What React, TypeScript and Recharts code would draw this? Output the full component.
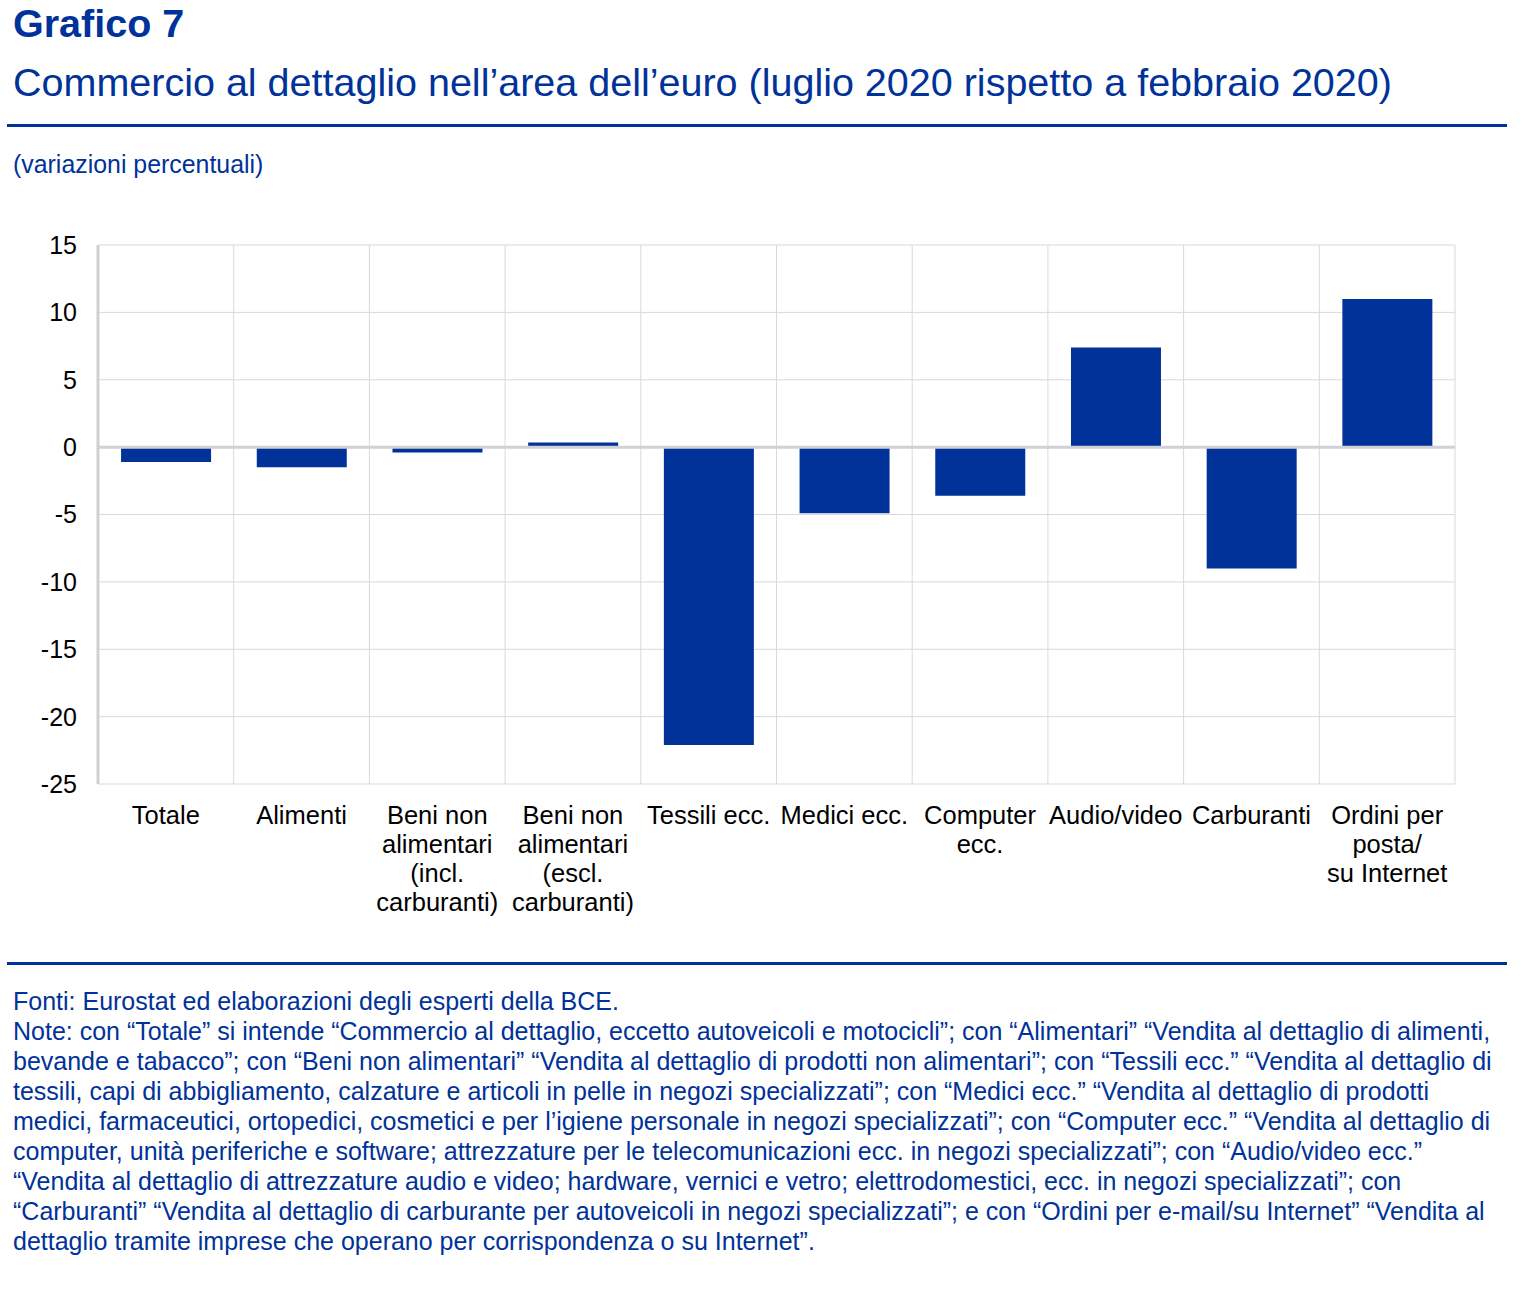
import React from "react";
import { BarChart, Bar, XAxis, YAxis, CartesianGrid, ReferenceLine } from "recharts";

const categories: string[] = [
  "Totale",
  "Alimenti",
  "Beni non\nalimentari\n(incl.\ncarburanti)",
  "Beni non\nalimentari\n(escl.\ncarburanti)",
  "Tessili ecc.",
  "Medici ecc.",
  "Computer\necc.",
  "Audio/video",
  "Carburanti",
  "Ordini per\nposta/\nsu Internet",
];

const values: number[] = [-1.1, -1.5, -0.4, 0.35, -22.1, -4.9, -3.6, 7.4, -9.0, 11.0];

const yTicks: number[] = [15, 10, 5, 0, -5, -10, -15, -20, -25];

const titleText = "Grafico 7";
const subtitleText = "Commercio al dettaglio nell’area dell’euro (luglio 2020 rispetto a febbraio 2020)";
const unitText = "(variazioni percentuali)";
const noteLines: string[] = [
  "Fonti: Eurostat ed elaborazioni degli esperti della BCE.",
  "Note: con “Totale” si intende “Commercio al dettaglio, eccetto autoveicoli e motocicli”; con “Alimentari” “Vendita al dettaglio di alimenti,",
  "bevande e tabacco”; con “Beni non alimentari” “Vendita al dettaglio di prodotti non alimentari”; con “Tessili ecc.” “Vendita al dettaglio di",
  "tessili, capi di abbigliamento, calzature e articoli in pelle in negozi specializzati”; con “Medici ecc.” “Vendita al dettaglio di prodotti",
  "medici, farmaceutici, ortopedici, cosmetici e per l’igiene personale in negozi specializzati”; con “Computer ecc.” “Vendita al dettaglio di",
  "computer, unità periferiche e software; attrezzature per le telecomunicazioni ecc. in negozi specializzati”; con “Audio/video ecc.”",
  "“Vendita al dettaglio di attrezzature audio e video; hardware, vernici e vetro; elettrodomestici, ecc. in negozi specializzati”; con",
  "“Carburanti” “Vendita al dettaglio di carburante per autoveicoli in negozi specializzati”; e con “Ordini per e-mail/su Internet” “Vendita al",
  "dettaglio tramite imprese che operano per corrispondenza o su Internet”.",
];

const data = categories.map((c, i) => ({ name: c, value: values[i] }));

const NAVY = "#003299";
const FONT = "'Liberation Sans', Arial, sans-serif";

const XTick = (props: any) => {
  const { x, y, payload } = props;
  const lines = String(payload.value).split("\n");
  return (
    <text x={x} y={y} textAnchor="middle" fontSize={25.5} fill="#000" fontFamily={FONT}>
      {lines.map((l, i) => (
        <tspan key={i} x={x} dy={i === 0 ? 32 : 29}>
          {l}
        </tspan>
      ))}
    </text>
  );
};

export default function App() {
  return (
    <div style={{ position: "absolute", left: 0, top: 0, width: 1529, height: 1315, background: "#fff", fontFamily: FONT }}>
      <div style={{ position: "absolute", left: 13, top: 4, fontSize: 39.5, lineHeight: "39.5px", fontWeight: "bold", color: NAVY, whiteSpace: "nowrap" }}>
        {titleText}
      </div>
      <div style={{ position: "absolute", left: 13, top: 63, fontSize: 39.5, lineHeight: "39.5px", color: NAVY, whiteSpace: "nowrap" }}>
        {subtitleText}
      </div>
      <div style={{ position: "absolute", left: 7, top: 124, width: 1500, height: 3, background: NAVY }} />
      <div style={{ position: "absolute", left: 13, top: 152, fontSize: 24.9, lineHeight: "24.9px", color: NAVY, whiteSpace: "nowrap" }}>
        {unitText}
      </div>
      <div style={{ position: "absolute", left: 0, top: 0 }}>
        <BarChart
          width={1529}
          height={930}
          data={data}
          margin={{ top: 245, right: 74, bottom: 0, left: 0 }}
          barCategoryGap="17%"
        >
          <CartesianGrid
            stroke="#d9d9d9"
            strokeWidth={1}
            verticalCoordinatesGenerator={(p: any) => {
              const off = p.offset;
              const n = categories.length;
              const arr: number[] = [];
              for (let i = 1; i <= n; i++) arr.push(off.left + (off.width * i) / n);
              return arr;
            }}
          />
          <XAxis
            dataKey="name"
            interval={0}
            height={146}
            axisLine={false}
            tickLine={false}
            tickSize={6}
            tickMargin={2}
            tick={<XTick />}
          />
          <YAxis
            width={98}
            domain={[-25, 15]}
            ticks={yTicks}
            type="number"
            axisLine={{ stroke: "#d0d0d0", strokeWidth: 3 }}
            tickLine={false}
            tickSize={6}
            tickMargin={15}
            tick={{ fontSize: 25, fill: "#000", fontFamily: FONT }}
            interval={0}
          />
          <Bar dataKey="value" fill={NAVY} isAnimationActive={false} />
          <ReferenceLine y={0} stroke="#d0d0d6" strokeWidth={3} />
        </BarChart>
      </div>
      <div style={{ position: "absolute", left: 7, top: 962, width: 1500, height: 3, background: NAVY }} />
      <div style={{ position: "absolute", left: 13, top: 986, fontSize: 25, lineHeight: "30px", color: NAVY }}>
        {noteLines.map((l, i) => (
          <div key={i} style={{ whiteSpace: "nowrap" }}>
            {l}
          </div>
        ))}
      </div>
    </div>
  );
}
